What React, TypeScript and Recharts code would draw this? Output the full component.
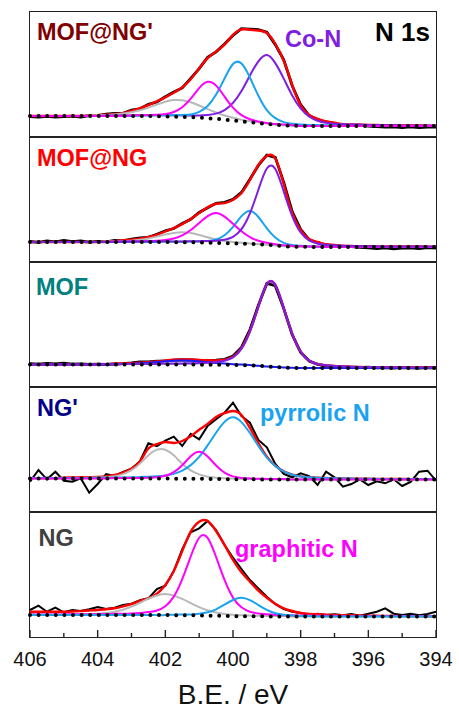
import { LineChart, Line, XAxis, YAxis } from 'recharts';

// binding energy grid (eV), shared by all panels
const be = [406, 405.75, 405.5, 405.25, 405, 404.75, 404.5, 404.25, 404, 403.75, 403.5, 403.25, 403, 402.75, 402.5, 402.25, 402, 401.75, 401.5, 401.25, 401, 400.75, 400.5, 400.25, 400, 399.75, 399.5, 399.25, 399, 398.75, 398.5, 398.25, 398, 397.75, 397.5, 397.25, 397, 396.75, 396.5, 396.25, 396, 395.75, 395.5, 395.25, 395, 394.75, 394.5, 394.25, 394];
const ticks = [406, 405, 404, 403, 402, 401, 400, 399, 398, 397, 396, 395, 394];

// MOF@NG'  (background absolute, everything else above background)
const mofNgP_bg = [21, 21, 21, 21, 21, 21, 21, 21, 21, 21, 21, 21, 21, 21, 20.9, 20.8, 20.6, 20.4, 20.1, 19.8, 19.3, 18.8, 18.2, 17.4, 16.6, 15.7, 14.8, 13.9, 13, 12.2, 11.7, 11.3, 11.1, 11, 11, 11, 11, 11, 11, 11, 11, 11, 11, 11, 11, 11, 11, 11, 11];
const mofNgP_raw = [-0.5, -1, -0.3, -1.2, -0.6, -0.2, -1, 0.4, 0.3, 1.8, 2.5, 2.6, 5.8, 7.2, 11.8, 14.2, 19.8, 24.6, 29, 38.8, 49, 60.8, 67, 75.6, 85, 92.6, 93, 93.5, 91.8, 80.2, 65.5, 40, 21.2, 10.4, 6.4, 4, 2.4, 1, 0.6, 0.8, 0, -0.6, -1.2, -0.8, -1.5, -0.9, -1.6, -1, -1.2];
const mofNgP_fit = [0, 0, 0, 0, 0, 0, 0, 0.6, 0.8, 1.4, 2, 2.9, 5, 7.8, 11, 14.9, 19.1, 23.8, 29.6, 38, 49.4, 60.1, 67.4, 75, 85.5, 92, 92.5, 92.6, 91, 81, 64.5, 40.7, 20.5, 11, 7, 4.5, 3.2, 1.7, 1.5, 1.3, 1.1, 1, 0.8, 0.7, 0.6, 0.5, 0.5, 0.4, 0.4];
const mofNgP_gra = [0, 0, 0, 0, 0, 0, 0, 0.6, 0.8, 1, 1.5, 2.4, 3.8, 5.8, 8.5, 11.6, 14.6, 16.5, 16.6, 15, 12.2, 9.1, 6.3, 4.1, 2.6, 1.6, 1.1, 0.8, 0.6, 0, 0, 0, 0, 0, 0, 0, 0, 0, 0, 0, 0, 0, 0, 0, 0, 0, 0, 0, 0];
const mofNgP_grN = [0, 0, 0, 0, 0, 0, 0, 0, 0, 0, 0, 0, 0.6, 0.7, 1, 1.4, 2.3, 4.6, 9.6, 18.5, 29.6, 36.4, 33.2, 23, 12.7, 6.1, 2.9, 1.6, 1.1, 0.8, 0.7, 0.5, 0, 0, 0, 0, 0, 0, 0, 0, 0, 0, 0, 0, 0, 0, 0, 0, 0];
const mofNgP_pyN = [0, 0, 0, 0, 0, 0, 0, 0, 0, 0, 0, 0, 0, 0.6, 0.7, 0.9, 1.1, 1.4, 1.9, 2.8, 5.8, 12.2, 24.3, 41.1, 56.4, 57.8, 44.7, 27.4, 13.9, 6.6, 3.2, 2, 1.5, 1.1, 0.9, 0.7, 0.6, 0, 0, 0, 0, 0, 0, 0, 0, 0, 0, 0, 0];
const mofNgP_coN = [0, 0, 0, 0, 0, 0, 0, 0, 0, 0.4, 0.5, 0.5, 0.6, 0.7, 0.8, 1, 1.1, 1.3, 1.5, 1.7, 2.2, 3.2, 5.2, 9.5, 17.5, 30.3, 46.7, 61.7, 69, 61.7, 46.7, 30.3, 17.5, 9.5, 5.2, 3.2, 2.2, 1.7, 1.5, 1.3, 1.1, 1, 0.8, 0.7, 0.6, 0.5, 0.5, 0.4, 0.4];

// MOF@NG
const mofNg_bg = [20, 20, 20, 20, 20, 20, 20, 20, 20, 20, 20, 20, 20, 20, 20, 20, 20, 19.9, 19.8, 19.7, 19.5, 19.3, 19.1, 18.8, 18.6, 18.4, 18.1, 17.6, 17.2, 16.6, 15.8, 15.4, 15.2, 15.1, 15, 15, 15, 15, 15, 15, 15, 15, 15, 15, 15, 15, 15, 15, 15];
const mofNg_raw = [0.5, -0.3, 1.2, 0.2, 1.5, 0.3, 1, -0.2, 0.6, 0.2, 1.5, 1.2, 2.8, 4.2, 4.6, 7.8, 11.2, 13.6, 18.8, 23, 30, 35, 39.6, 40.8, 44, 51.2, 64.6, 79, 89.6, 88, 63.8, 35, 17.4, 7.2, 4.2, 2.2, 1.2, 0.6, 0.4, -0.3, -0.8, -1.5, -0.8, -1.8, -1.2, -0.8, -1.5, -0.6, -1];
const mofNg_fit = [0, 0, 0, 0, 0, 0, 0, 0, 0, 0.4, 0.9, 1.7, 2.4, 3.4, 5, 7.2, 10.6, 14, 18.1, 23.2, 29.4, 35.3, 39.1, 40.1, 43.6, 50.6, 63.9, 79.4, 88.8, 86.9, 62.2, 33.6, 16.8, 7.9, 5, 2.7, 2.1, 1.3, 1, 0.8, 0.7, 0.65, 0.55, 0.55, 0.5, 0.5, 0.5, 0.4, 0.4];
const mofNg_gra = [0, 0, 0, 0, 0, 0, 0, 0, 0, 0.4, 0.5, 0.8, 1.3, 2.2, 3.5, 5.4, 7.5, 9.2, 10, 9.2, 7.5, 5.4, 3.5, 2.2, 1.3, 0.8, 0.5, 0.4, 0, 0, 0, 0, 0, 0, 0, 0, 0, 0, 0, 0, 0, 0, 0, 0, 0, 0, 0, 0, 0];
const mofNg_grN = [0, 0, 0, 0, 0, 0, 0, 0, 0, 0, 0.4, 0.5, 0.6, 0.7, 0.9, 1.2, 2, 3.6, 6.8, 12.3, 19.6, 26.6, 30, 26.6, 19.6, 12.3, 6.8, 3.6, 2, 1.2, 0.9, 0.7, 0.6, 0.5, 0.4, 0, 0, 0, 0, 0, 0, 0, 0, 0, 0, 0, 0, 0, 0];
const mofNg_pyN = [0, 0, 0, 0, 0, 0, 0, 0, 0, 0, 0, 0, 0, 0, 0, 0, 0.4, 0.45, 0.5, 0.7, 1, 1.6, 3.4, 8, 16.5, 27.4, 33, 27.4, 16.5, 8, 3.4, 1.6, 1, 0.7, 0.5, 0.45, 0.4, 0, 0, 0, 0, 0, 0, 0, 0, 0, 0, 0, 0];
const mofNg_coN = [0, 0, 0, 0, 0, 0, 0, 0, 0, 0, 0, 0.4, 0.5, 0.5, 0.55, 0.55, 0.65, 0.7, 0.8, 1, 1.3, 1.7, 2.2, 3.5, 6.5, 14.4, 30.5, 54.7, 76.3, 76.3, 54.7, 30.5, 14.4, 6.5, 3.5, 2.2, 1.7, 1.3, 1, 0.8, 0.7, 0.65, 0.55, 0.55, 0.5, 0.5, 0.5, 0.4, 0.4];

// MOF
const mof_bg = [22.5, 22.5, 22.5, 22.5, 22.5, 22.5, 22.5, 22.5, 22.5, 22.5, 22.5, 22.5, 22.5, 22.5, 22.5, 22.5, 22.5, 22.5, 22.45, 22.4, 22.35, 22.3, 22.25, 22.2, 22.1, 22, 21.7, 21.2, 20.6, 19.9, 19.4, 19.15, 19.05, 19, 19, 19, 19, 19, 19, 19, 19, 19, 19, 19, 19, 19, 19, 19, 19];
const mof_raw = [0.8, 0.3, 1, 0.5, 1.3, 0.4, 0.6, 0, 0.3, 0.1, 0.5, 0.8, 1.5, 2.5, 2.6, 3.4, 3.6, 4.4, 4.8, 4.6, 4.3, 4, 4.6, 5.4, 8.8, 17.6, 35.5, 60.5, 83, 81.4, 59, 33.2, 15.6, 7, 3.6, 2.2, 1.5, 1.2, 0.6, 0.4, 0.8, 0.2, 0.3, -0.2, 0.4, 0.2, -0.1, 0.5, 0.1];
const mof_fit = [0, 0, 0, 0, 0, 0, 0, 0, 0, 0.4, 0.8, 1, 1.2, 1.8, 2.3, 3.1, 4, 4.7, 5, 5.1, 4.7, 4.4, 4.3, 5.2, 8.2, 16.8, 34.3, 59.3, 82.2, 82.2, 59.3, 34, 16.3, 7.5, 4, 2.6, 2, 1.5, 1.25, 1, 0.9, 0.8, 0.7, 0.6, 0.6, 0.5, 0.5, 0.45, 0.4];
const mof_blu = [0, 0, 0, 0, 0, 0, 0, 0, 0, 0, 0.3, 0.5, 0.7, 1.2, 1.7, 2.4, 3.2, 3.8, 4, 3.8, 3.2, 2.4, 1.7, 1.2, 0.7, 0.5, 0.3, 0, 0, 0, 0, 0, 0, 0, 0, 0, 0, 0, 0, 0, 0, 0, 0, 0, 0, 0, 0, 0, 0];
const mof_coN = [0, 0, 0, 0, 0, 0, 0, 0, 0, 0.4, 0.45, 0.5, 0.5, 0.6, 0.6, 0.7, 0.8, 0.9, 1, 1.25, 1.5, 2, 2.6, 4, 7.5, 16.3, 34, 59.3, 82.2, 82.2, 59.3, 34, 16.3, 7.5, 4, 2.6, 2, 1.5, 1.25, 1, 0.9, 0.8, 0.7, 0.6, 0.6, 0.5, 0.5, 0.45, 0.4];

// NG'
const ngP_bg = [33.5, 33.5, 33.5, 33.5, 33.5, 33.5, 33.5, 33.5, 33.5, 33.5, 33.5, 33.5, 33.5, 33.5, 33.5, 33.45, 33.4, 33.35, 33.3, 33.25, 33.2, 33.1, 33, 32.9, 32.8, 32.7, 32.65, 32.6, 32.55, 32.5, 32.5, 32.5, 32.5, 32.5, 32.5, 32.5, 32.5, 32.5, 32.5, 32.5, 32.5, 32.5, 32.5, 32.5, 32.5, 32.5, 32.5, 32.5, 32.5];
const ngP_raw = [-3.2, 8.5, -0.8, 6.8, -2.2, -3.2, 0.2, -14.2, -5.5, 4.5, 2.5, 6.5, 9.8, 17.2, 35.2, 32.5, 37.9, 42, 32.7, 44.8, 39.5, 52.9, 59.7, 66.4, 76.5, 63.3, 56.6, 39.4, 32.1, 15.5, 5.5, 2.2, 6.2, 3.5, -5.5, 7.8, 2.2, -7.2, -4.5, 0.2, -5.5, -1.8, -3.8, 0.2, -6.5, -2.5, 7.8, 8.8, -1.2];
const ngP_fit = [0.4, 0.4, 0.4, 0.4, 0.9, 1, 1.2, 1.3, 1.6, 2.1, 3.5, 5.9, 10, 17, 30, 34.5, 36.6, 35.7, 37.7, 42.5, 49, 55, 62, 66, 68.2, 64.3, 51.4, 36.4, 22.8, 13.8, 8.3, 4.9, 3.1, 2.3, 1.8, 1.5, 1.2, 1.1, 0.9, 0.8, 0.7, 0.6, 0.6, 0.5, 0.5, 0.4, 0.4, 0.4, 0.4];
const ngP_gra = [0, 0, 0, 0, 0.4, 0.5, 0.6, 0.7, 0.9, 1.3, 2.2, 4.4, 8.3, 14.9, 23.3, 28.9, 28.9, 23.3, 14.9, 8.3, 4.4, 2.2, 1.3, 0.9, 0.7, 0.6, 0.5, 0.4, 0, 0, 0, 0, 0, 0, 0, 0, 0, 0, 0, 0, 0, 0, 0, 0, 0, 0, 0, 0, 0];
const ngP_pyN = [0.4, 0.4, 0.4, 0.4, 0.5, 0.5, 0.56, 0.6, 0.7, 0.8, 0.9, 1.05, 1.2, 1.5, 1.8, 2.3, 3.1, 4.8, 8.1, 13.6, 21.9, 33.5, 46.3, 57.2, 62, 57.2, 46.3, 33.5, 21.9, 13.6, 8.1, 4.8, 3.1, 2.3, 1.8, 1.5, 1.2, 1.05, 0.9, 0.8, 0.7, 0.6, 0.56, 0.5, 0.5, 0.4, 0.4, 0.4, 0.4];
const ngP_grN = [0, 0, 0, 0, 0, 0, 0, 0, 0, 0, 0.4, 0.45, 0.5, 0.6, 0.8, 1.4, 2.8, 6.5, 13.5, 22.4, 27, 22.4, 13.5, 6.5, 2.8, 1.4, 0.8, 0.6, 0.5, 0.45, 0.4, 0, 0, 0, 0, 0, 0, 0, 0, 0, 0, 0, 0, 0, 0, 0, 0, 0, 0];

// NG
const ng_bg = [22, 22, 22, 22, 22, 22, 22, 22, 22, 22, 22, 22, 22, 22, 22, 21.95, 21.9, 21.85, 21.8, 21.7, 21.55, 21.4, 21.2, 21.05, 20.9, 20.8, 20.7, 20.65, 20.6, 20.5, 20.5, 20.5, 20.5, 20.5, 20.5, 20.5, 20.5, 20.5, 20.5, 20.5, 20.5, 20.5, 20.5, 20.5, 20.5, 20.5, 20.5, 20.5, 20.5];
const ng_raw = [5, 9.3, 3.3, 7.3, 2.7, 5, 4, 5.7, 8, 6, 7.3, 10, 11.3, 14.7, 16.7, 26, 29.4, 44.1, 66, 83, 87.1, 94.6, 85.8, 71, 58.4, 47.2, 36.3, 28, 19.7, 12.2, 7.5, 4.8, 3.5, 1.5, 2.8, 1.5, 2.2, 1.2, 2.5, 0.8, 2.8, 4.8, 8.2, 2.8, 1.5, 2.8, 1.2, 2.5, 4.8];
const ng_fit = [3.3, 3.3, 3.3, 3.3, 3.3, 3.5, 4, 4.5, 5, 5.8, 6.7, 8.6, 11, 14, 16.7, 21.3, 30.1, 44.2, 64.2, 83.6, 93.8, 94.6, 84.8, 71, 56.1, 43.9, 34.6, 25.7, 18.7, 12.8, 8.2, 5.5, 3.5, 2.5, 2.2, 1.8, 1.5, 1.3, 1.2, 1, 0.8, 0.7, 0.6, 0.5, 0.4, 0.3, 0.2, 0.1, 0];
const ng_gra = [0.4, 0.4, 0.4, 0.45, 0.5, 0.6, 0.7, 0.9, 1.3, 2, 3.3, 5.3, 8.3, 12.2, 16.3, 19.5, 21, 19.5, 16.3, 12.2, 8.3, 5.3, 3.3, 2, 1.3, 0.9, 0.7, 0.6, 0.5, 0.45, 0.4, 0, 0, 0, 0, 0, 0, 0, 0, 0, 0, 0, 0, 0, 0, 0, 0, 0, 0];
const ng_grN = [0.45, 0.5, 0.5, 0.55, 0.6, 0.65, 0.7, 0.8, 0.9, 1, 1.2, 1.35, 1.6, 2.1, 2.9, 4.6, 8.9, 18.5, 36, 58.8, 77.7, 77.7, 58.8, 36, 18.5, 8.9, 4.6, 2.9, 2.1, 1.6, 1.35, 1.2, 1, 0.9, 0.8, 0.7, 0.65, 0.6, 0.55, 0.5, 0.5, 0.45, 0.4, 0.4, 0.4, 0.4, 0.4, 0.4, 0.4];
const ng_pyN = [0, 0, 0, 0, 0, 0, 0, 0, 0, 0, 0, 0, 0, 0, 0, 0, 0, 0.5, 0.6, 0.9, 1.7, 3.3, 6.5, 11.3, 16.1, 18.5, 16.1, 11.3, 6.5, 3.3, 1.7, 0.9, 0.6, 0.5, 0, 0, 0, 0, 0, 0, 0, 0, 0, 0, 0, 0, 0, 0, 0];

const FONT = '"Liberation Sans", Arial, sans-serif';
const FRAME = '#222';
const PURPLE = '#7f1de3';
const SKY = '#19a3f0';
const PINK = '#ff00ff';
const GREY = '#b8b8b8';
const RED = '#ff0000';

type Comp = { key: string; vals: number[]; color: string; width?: number; curve?: 'natural' | 'linear' };

function buildRows(bg: number[], comps: Comp[]) {
  return be.map((x, i) => {
    const row: any = { x, bg: bg[i] };
    comps.forEach((c) => {
      row[c.key] = bg[i] + c.vals[i];
    });
    return row;
  });
}

const TickMark = (props: any) => {
  const { x, y, payload, last } = props;
  const v = payload.value;
  const major = v % 2 === 0;
  return (
    <g>
      <line x1={x} x2={x} y1={y} y2={y - (major ? 7 : 4)} stroke={FRAME} strokeWidth={1.4} />
      {last && major ? (
        <text x={x} y={y + 28.5} textAnchor="middle" fontSize={20} fontFamily={FONT} fill="#111">
          {v}
        </text>
      ) : null}
    </g>
  );
};

function Panel({ top, bg, comps, last, rawWidth }: { top: number; bg: number[]; comps: Comp[]; last?: boolean; rawWidth: number }) {
  const rows = buildRows(bg, comps);
  const h = last ? 200 : 125;
  return (
    <div style={{ position: 'absolute', left: 0, top, width: 459, height: h }}>
      <LineChart width={459} height={h} data={rows} margin={{ top: 0, right: 23, bottom: 0, left: 30 }}>
        <XAxis
          dataKey="x"
          type="number"
          domain={[394, 406]}
          reversed
          ticks={ticks}
          interval={0}
          tickSize={0}
          tickMargin={0}
          axisLine={false}
          tickLine={false}
          height={last ? 75 : 0}
          tick={(p: any) => <TickMark {...p} last={last} />}
        />
        <YAxis hide type="number" domain={[0, 125]} />
        {comps.map((c) => (
          <Line
            key={c.key}
            dataKey={c.key}
            type={c.curve || 'natural'}
            stroke={c.color}
            strokeWidth={c.key === 'raw' ? rawWidth : c.width || 2}
            dot={false}
            activeDot={false}
            isAnimationActive={false}
          />
        ))}
        {/* Shirley background as round dots */}
        <Line dataKey="bg" type="linear" stroke="#000" strokeWidth={4} strokeDasharray="0 8.6" strokeLinecap="round" dot={false} activeDot={false} isAnimationActive={false} />
      </LineChart>
    </div>
  );
}

const tops = [12, 137, 262, 387, 512];

export default function App() {
  return (
    <div style={{ position: 'absolute', left: 0, top: 0, width: 459, height: 709, background: '#fff' }}>
      <div style={{ position: 'absolute', left: 29, top: 11, width: 408, height: 627, border: `1.5px solid ${FRAME}`, boxSizing: 'border-box' }} />
      {tops.slice(1).map((t) => (
        <div key={t} style={{ position: 'absolute', left: 29, top: t - 0.75, width: 408, height: 1.5, background: FRAME }} />
      ))}

      <Panel
        top={tops[0]}
        bg={mofNgP_bg}
        rawWidth={2.8}
        comps={[
          { key: 'raw', vals: mofNgP_raw, color: '#000', curve: 'linear' },
          { key: 'fit', vals: mofNgP_fit, color: RED, width: 2.4 },
          { key: 'gra', vals: mofNgP_gra, color: GREY },
          { key: 'coN', vals: mofNgP_coN, color: PURPLE },
          { key: 'pyN', vals: mofNgP_pyN, color: SKY },
          { key: 'grN', vals: mofNgP_grN, color: PINK },
        ]}
      />
      <Panel
        top={tops[1]}
        bg={mofNg_bg}
        rawWidth={2.8}
        comps={[
          { key: 'raw', vals: mofNg_raw, color: '#000', curve: 'linear' },
          { key: 'fit', vals: mofNg_fit, color: RED, width: 2.4 },
          { key: 'gra', vals: mofNg_gra, color: GREY },
          { key: 'pyN', vals: mofNg_pyN, color: SKY },
          { key: 'grN', vals: mofNg_grN, color: PINK },
          { key: 'coN', vals: mofNg_coN, color: PURPLE },
        ]}
      />
      <Panel
        top={tops[2]}
        bg={mof_bg}
        rawWidth={2.8}
        comps={[
          { key: 'raw', vals: mof_raw, color: '#000', curve: 'linear' },
          { key: 'fit', vals: mof_fit, color: RED, width: 2.4 },
          { key: 'blu', vals: mof_blu, color: '#1a1aff' },
          { key: 'coN', vals: mof_coN, color: PURPLE, width: 2.2 },
        ]}
      />
      <Panel
        top={tops[3]}
        bg={ngP_bg}
        rawWidth={2}
        comps={[
          { key: 'raw', vals: ngP_raw, color: '#000', curve: 'linear' },
          { key: 'fit', vals: ngP_fit, color: RED, width: 2.4 },
          { key: 'gra', vals: ngP_gra, color: GREY },
          { key: 'pyN', vals: ngP_pyN, color: SKY },
          { key: 'grN', vals: ngP_grN, color: PINK },
        ]}
      />
      <Panel
        top={tops[4]}
        bg={ng_bg}
        rawWidth={2}
        last
        comps={[
          { key: 'raw', vals: ng_raw, color: '#000', curve: 'linear' },
          { key: 'fit', vals: ng_fit, color: RED, width: 2.4 },
          { key: 'gra', vals: ng_gra, color: GREY },
          { key: 'grN', vals: ng_grN, color: PINK },
          { key: 'pyN', vals: ng_pyN, color: SKY },
        ]}
      />

      <svg width={459} height={709} style={{ position: 'absolute', left: 0, top: 0, pointerEvents: 'none' }}>
        <g fontFamily={FONT} fontWeight="bold" fontSize={23.5}>
          <text x={37} y={39.5} fill="#800000">MOF@NG'</text>
          <text x={285} y={46.5} fill={PURPLE}>Co-N</text>
          <text x={430} y={40.5} fill="#000" fontSize={26} textAnchor="end">N 1s</text>
          <text x={37} y={166} fill={RED}>MOF@NG</text>
          <text x={36} y={295} fill="#008080">MOF</text>
          <text x={37} y={416} fill="#00008b">NG'</text>
          <text x={260} y={420.5} fill={SKY}>pyrrolic N</text>
          <text x={38.5} y={545.5} fill="#404040">NG</text>
          <text x={235} y={556.5} fill={PINK}>graphitic N</text>
        </g>
        <text x={233} y={703.5} fontFamily={FONT} fontSize={28} textAnchor="middle" fill="#111">B.E. / eV</text>
      </svg>
    </div>
  );
}
